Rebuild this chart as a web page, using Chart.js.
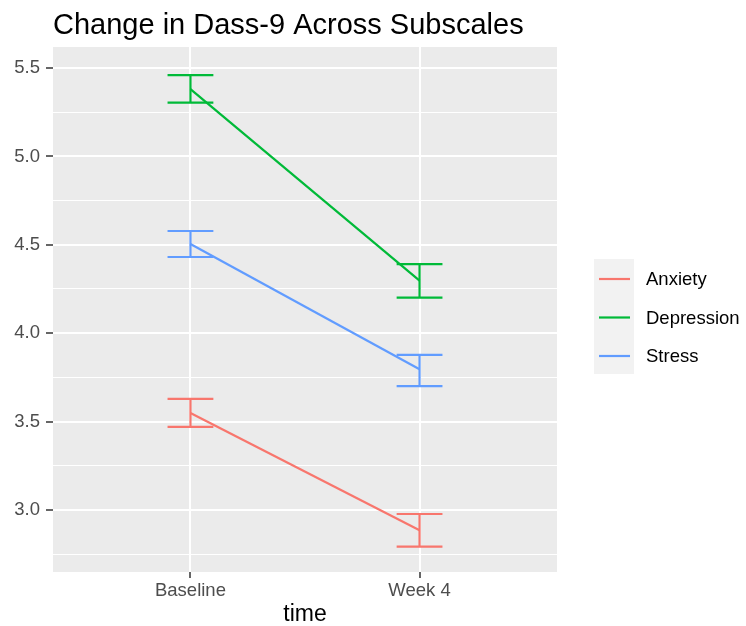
<!DOCTYPE html>
<html>
<head>
<meta charset="utf-8">
<script src="https://cdn.jsdelivr.net/npm/chart.js@4.4.1/dist/chart.umd.min.js"></script>
<style>
  html, body { margin: 0; padding: 0; background: #ffffff; }
  #wrap { width: 746px; height: 626px; position: relative; }
</style>
</head>
<body>
<div id="wrap"><canvas id="chart"></canvas></div>
<script>
// Données
const timeLabels = ['Baseline', 'Week 4'];
const seriesNames = ['Anxiety', 'Depression', 'Stress'];
const seriesColors = ['#F8766D', '#00BA38', '#619CFF'];

const anxietyMean = [3.549, 2.885];
const anxietyLow = [3.470, 2.792];
const anxietyHigh = [3.628, 2.977];

const depressionMean = [5.381, 4.297];
const depressionLow = [5.304, 4.201];
const depressionHigh = [5.460, 4.391];

const stressMean = [4.505, 3.796];
const stressLow = [4.431, 3.701];
const stressHigh = [4.578, 3.877];

const yTicks = [2.75, 3.0, 3.25, 3.5, 3.75, 4.0, 4.25, 4.5, 4.75, 5.0, 5.25, 5.5];
const xTicks = [1, 2];

const FONT = "'Liberation Sans', Arial, Helvetica, sans-serif";
const isMajor = v => Math.abs(v * 2 - Math.round(v * 2)) < 1e-6;

const means = [anxietyMean, depressionMean, stressMean];
const lows = [anxietyLow, depressionLow, stressLow];
const highs = [anxietyHigh, depressionHigh, stressHigh];

// Lignes des moyennes
const lineSets = seriesNames.map((name, s) => ({
    label: name,
    data: means[s].map((y, i) => ({ x: xTicks[i], y: y })),
    borderColor: seriesColors[s],
    borderWidth: 2.2,
    pointRadius: 0,
    fill: false
}));

// Barres d'erreur : forme en I, coupée par des null
const errSets = seriesNames.map((name, s) => {
    const pts = [];
    xTicks.forEach((x, i) => {
        pts.push({ x: x - 0.1, y: highs[s][i] }, { x: x + 0.1, y: highs[s][i] }, { x: x, y: null });
        pts.push({ x: x, y: highs[s][i] }, { x: x, y: lows[s][i] }, { x: x, y: null });
        pts.push({ x: x - 0.1, y: lows[s][i] }, { x: x + 0.1, y: lows[s][i] }, { x: x, y: null });
    });
    return {
        label: name + ' err',
        data: pts,
        borderColor: seriesColors[s],
        borderWidth: 2.2,
        pointRadius: 0,
        spanGaps: false,
        fill: false
    };
});

// Fond gris du panneau, titre et légende façon ggplot
const ggPlugin = {
    id: 'ggPlugin',
    beforeDraw(chart) {
        const { ctx, chartArea: a } = chart;
        ctx.save();
        ctx.fillStyle = '#EBEBEB';
        ctx.fillRect(a.left, a.top, a.right - a.left, a.bottom - a.top);
        ctx.restore();
    },
    afterDraw(chart) {
        const { ctx, chartArea: a } = chart;
        ctx.save();
        ctx.fillStyle = '#000000';
        ctx.font = '29px ' + FONT;
        ctx.textBaseline = 'alphabetic';
        ctx.textAlign = 'left';
        ctx.fillText('Change in Dass-9 Across Subscales', a.left, 34);

        const lx = a.right + 37;
        const ly = 259;
        ctx.fillStyle = '#F2F2F2';
        ctx.fillRect(lx, ly, 40, 115);
        ctx.font = '18.5px ' + FONT;
        ctx.textBaseline = 'middle';
        seriesNames.forEach((name, s) => {
            const y = ly + 20 + s * 38.5;
            ctx.strokeStyle = seriesColors[s];
            ctx.lineWidth = 2.2;
            ctx.beginPath();
            ctx.moveTo(lx + 5, y);
            ctx.lineTo(lx + 36, y);
            ctx.stroke();
            ctx.fillStyle = '#000000';
            ctx.fillText(name, lx + 52, y + 1);
        });
        ctx.restore();
    }
};

new Chart(document.getElementById('chart'), {
    type: 'line',
    data: { datasets: lineSets.concat(errSets) },
    plugins: [ggPlugin],
    options: {
        responsive: true,
        maintainAspectRatio: false,
        animation: false,
        layout: { padding: { top: 47, right: 189, left: 0, bottom: 0 } },
        plugins: {
            legend: { display: false },
            title: { display: false },
            tooltip: { enabled: false }
        },
        scales: {
            x: {
                type: 'linear',
                min: 0.4,
                max: 2.6,
                afterBuildTicks: axis => { axis.ticks = xTicks.map(v => ({ value: v })); },
                afterFit: axis => { axis.height = 54; },
                border: { display: false },
                grid: {
                    color: '#FFFFFF',
                    lineWidth: 2,
                    tickLength: 6,
                    tickColor: '#333333',
                    tickWidth: 1.5
                },
                ticks: {
                    color: '#4D4D4D',
                    font: { family: FONT, size: 18.5 },
                    padding: 2,
                    maxRotation: 0,
                    callback: v => timeLabels[v - 1]
                },
                title: {
                    display: true,
                    text: 'time',
                    color: '#000000',
                    font: { family: FONT, size: 23, lineHeight: 1.0 },
                    padding: { top: 0, bottom: 0 }
                }
            },
            y: {
                type: 'linear',
                min: 2.649,
                max: 5.619,
                afterBuildTicks: axis => { axis.ticks = yTicks.map(v => ({ value: v })); },
                afterFit: axis => { axis.width = 53; },
                border: { display: false },
                grid: {
                    color: '#FFFFFF',
                    lineWidth: ctx => isMajor(ctx.tick.value) ? 2 : 1,
                    tickLength: 7,
                    tickColor: ctx => isMajor(ctx.tick.value) ? '#333333' : 'rgba(0,0,0,0)',
                    tickWidth: 1.5
                },
                ticks: {
                    color: '#4D4D4D',
                    font: { family: FONT, size: 18.5 },
                    padding: 6,
                    callback: v => isMajor(v) ? v.toFixed(1) : ''
                }
            }
        }
    }
});
</script>
</body>
</html>
